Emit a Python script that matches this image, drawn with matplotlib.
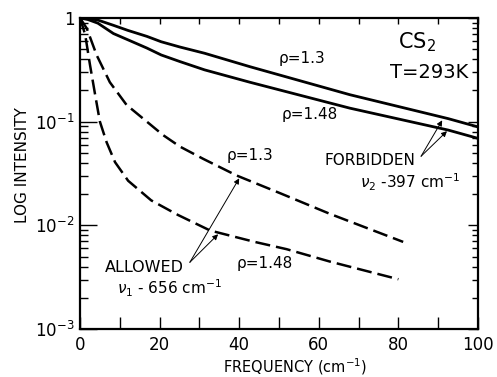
import numpy as np
import matplotlib
matplotlib.use('Agg')
import matplotlib.pyplot as plt
from matplotlib.ticker import LogLocator, MultipleLocator, NullFormatter, FixedLocator, FixedFormatter

plt.rcParams['font.family'] = ['DejaVu Sans']
plt.rcParams['mathtext.fontset'] = 'dejavusans'

# forbidden (nu2) band, solid curves
freq_forb_13 = [0, 2, 4.5, 8.4, 12, 16.8, 20.4, 25.1, 31.3, 42.7, 67.8, 92.5, 100]
int_forb_13 = [1, 0.99, 0.955, 0.85, 0.76, 0.665, 0.59, 0.525, 0.457, 0.339, 0.182, 0.107, 0.089]
freq_forb_148 = [0, 2, 4.5, 8.4, 12, 16.8, 20.4, 25.1, 31.3, 42.7, 67.8, 92.5, 100]
int_forb_148 = [1, 0.966, 0.891, 0.708, 0.617, 0.513, 0.44, 0.380, 0.316, 0.240, 0.135, 0.083, 0.069]

# allowed (nu1) band, dashed curves
freq_allow_13 = [0, 1.7, 4.2, 7.5, 11.7, 16.8, 20.9, 25.1, 31, 39.4, 50.3, 62.8, 81.2]
int_allow_13 = [1, 0.794, 0.437, 0.240, 0.145, 0.100, 0.0741, 0.0575, 0.0437, 0.0302, 0.0204, 0.0129, 0.00692]
freq_allow_148 = [0, 1.3, 2.5, 3.8, 5.0, 6.7, 8.8, 12.1, 17.9, 24.6, 32.7, 43.9, 51.9, 62.8, 80]
int_allow_148 = [1, 0.692, 0.355, 0.182, 0.100, 0.0631, 0.0407, 0.0269, 0.0174, 0.0126, 0.00891,
                 0.00692, 0.00589, 0.00447, 0.00302]

xticks = [0, 20, 40, 60, 80, 100]
yticks = [1e-3, 1e-2, 1e-1, 1]
ytick_labels = [r'$10^{-3}$', r'$10^{-2}$', r'$10^{-1}$', '1']

fig = plt.figure(figsize=(4.97, 3.77), dpi=100)
ax = fig.add_axes([80/497, 1-329/377, 398/497, 311/377])

ax.plot(freq_forb_13, int_forb_13, color='k', lw=2.0, solid_capstyle='butt')
ax.plot(freq_forb_148, int_forb_148, color='k', lw=2.0, solid_capstyle='butt')
l1, = ax.plot(freq_allow_13, int_allow_13, color='k', lw=1.8)
l2, = ax.plot(freq_allow_148, int_allow_148, color='k', lw=1.8)
for l in (l1, l2):
	l.set_dashes((6, 2.4))

ax.set_yscale('log')
ax.set_xlim(0, 100)
ax.set_ylim(1e-3, 1)

for s in ax.spines.values():
	s.set_linewidth(1.6)

ax.xaxis.set_major_locator(FixedLocator(xticks))
ax.xaxis.set_minor_locator(MultipleLocator(10))
ax.yaxis.set_major_locator(FixedLocator(yticks))
ax.yaxis.set_major_formatter(FixedFormatter(ytick_labels))
ax.yaxis.set_minor_locator(LogLocator(base=10, subs=np.arange(2, 10), numticks=20))
ax.yaxis.set_minor_formatter(NullFormatter())
ax.tick_params(axis='x', which='both', direction='in', length=9, width=1.0, labelsize=12, pad=5)
ax.tick_params(axis='y', which='major', direction='in', length=12, width=1.0, labelsize=12, pad=4)
ax.tick_params(axis='y', which='minor', direction='in', length=6, width=1.0)

# short ticks on top and right
axt = ax.twiny()
axt.set_xlim(0, 100)
axt.xaxis.set_major_locator(MultipleLocator(10))
axt.tick_params(axis='x', direction='in', length=4, width=1.0, labeltop=False)
axr = ax.twinx()
axr.set_yscale('log')
axr.set_ylim(1e-3, 1)
axr.yaxis.set_major_locator(FixedLocator(yticks))
axr.yaxis.set_minor_locator(LogLocator(base=10, subs=np.arange(2, 10), numticks=20))
axr.yaxis.set_minor_formatter(NullFormatter())
axr.tick_params(axis='y', which='major', direction='in', length=7, width=1.0, labelright=False)
axr.tick_params(axis='y', which='minor', direction='in', length=4, width=1.0)
for a in (axt, axr):
	for s in a.spines.values():
		s.set_visible(False)

ax.set_xlabel(r'FREQUENCY (cm$^{-1}$)', fontsize=10.5)
ax.xaxis.set_label_coords(0.54, -0.088)
ax.set_ylabel('LOG INTENSITY', fontsize=11)
ax.yaxis.set_label_coords(-0.125, 0.527)

# curve labels
ax.text(55.8, 0.41, 'ρ=1.3', fontsize=11, ha='center', va='center')
ax.text(57.8, 0.116, 'ρ=1.48', fontsize=11, ha='center', va='center')
ax.text(42.7, 0.0475, 'ρ=1.3', fontsize=11, ha='center', va='center')
ax.text(46.5, 0.0043, 'ρ=1.48', fontsize=11, ha='center', va='center')
ax.text(84.7, 0.59, r'CS$_2$', fontsize=15, ha='center', va='center')
ax.text(87.7, 0.30, 'T=293K', fontsize=14, ha='center', va='center')

ax.text(72.9, 0.0425, 'FORBIDDEN', fontsize=11, ha='center', va='center')
ax.text(82.9, 0.026, r'$\nu_2$ -397 cm$^{-1}$', fontsize=11, ha='center', va='center')
ax.text(16.1, 0.0039, 'ALLOWED', fontsize=11.5, ha='center', va='center')
ax.text(22.6, 0.00246, r'$\nu_1$ - 656 cm$^{-1}$', fontsize=11, ha='center', va='center')

arrow = dict(arrowstyle='-|>', lw=0.7, color='k', mutation_scale=8, shrinkA=0, shrinkB=0)
for tip in [(40, 0.0284), (34.7, 0.0082)]:
	ax.annotate('', xy=tip, xytext=(27.6, 0.0044), arrowprops=arrow)
for tip in [(91, 0.103), (92.2, 0.081)]:
	ax.annotate('', xy=tip, xytext=(85.7, 0.0464), arrowprops=arrow)

fig.savefig('out.png', dpi=100)
